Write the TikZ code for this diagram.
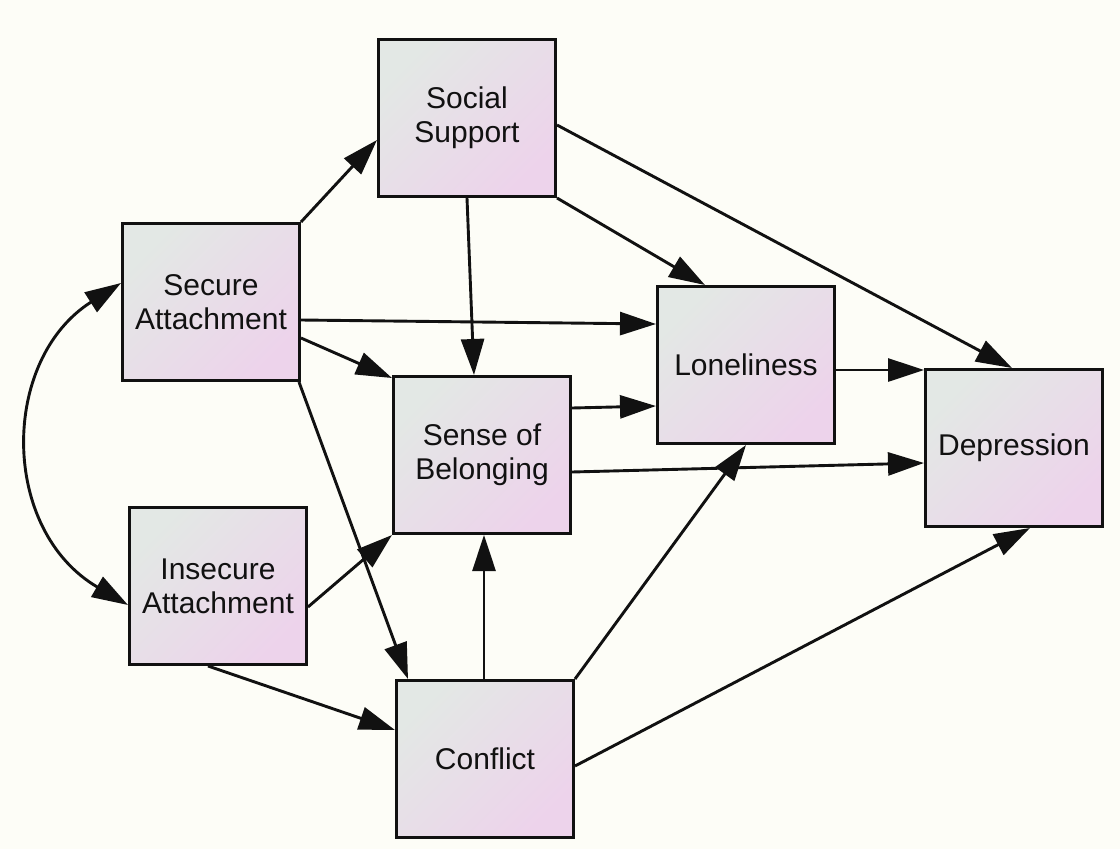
\documentclass[tikz,border=0pt]{standalone}
\usepackage{fontspec}
\setmainfont{Liberation Sans}
\usetikzlibrary{arrows.meta}
\definecolor{paper}{HTML}{FDFDF7}
\definecolor{boxA}{HTML}{E3E8E5}
\definecolor{boxB}{HTML}{E8DDE6}
\definecolor{boxC}{HTML}{EDD3EB}
\definecolor{ink}{HTML}{111111}
\tikzset{
  var/.style={draw=ink, line width=3pt, minimum width=177pt, minimum height=157pt,
    inner sep=0pt, align=center, text=ink,
    top color=boxA, middle color=boxB, bottom color=boxC, shading angle=45,
    font=\fontsize{30}{34}\selectfont},
  path/.style={draw=ink, line width=2.9pt, -{Triangle[length=36pt,width=23pt]}},
  cov/.style={draw=ink, line width=2.9pt, {Triangle[length=36pt,width=23pt]}-{Triangle[length=36pt,width=23pt]}}
}
\begin{document}
\begin{tikzpicture}[x=1pt,y=-1pt]
  \fill[paper] (0,0) rectangle (1120,849);
  \useasboundingbox (0,0) rectangle (1120,849);

  % variables
  \node[var] (ss)  at (467,118) {Social\\Support};
  \node[var] (sec) at (211,302) {Secure\\Attachment};
  \node[var] (ins) at (218,586) {Insecure\\Attachment};
  \node[var] (sob) at (482,455) {Sense of\\Belonging};
  \node[var] (lon) at (746,365) {Loneliness};
  \node[var] (dep) at (1014,448) {Depression};
  \node[var] (con) at (485,759) {Conflict};

  % directed paths
  \draw[path] (sec.north east) -- ([yshift=-22pt]ss.west);
  \draw[path] (ss.south east) -- ([xshift=-41pt]lon.north);
  \draw[path] ([yshift=-7pt]ss.east) -- ([xshift=-2pt]dep.north);
  \draw[path] (ss.south) -- ([xshift=-8pt]sob.north);
  \draw[path] ([yshift=-18pt]sec.east) -- ([yshift=41pt]lon.west);
  \draw[path] ([yshift=-36pt]sec.east) -- ([yshift=-3pt]sob.north west);
  \draw[path] ([xshift=-2pt]sec.south east) -- ([xshift=13pt]con.north west);
  \draw[path] ([yshift=47pt]sob.east) -- ([yshift=-41pt]lon.west);
  \draw[path] ([yshift=-17pt]sob.east) -- ([yshift=-15pt]dep.west);
  \draw[path] ([yshift=-5pt]lon.east) -- ([yshift=78pt]dep.west);
  \draw[path] ([yshift=-21pt]ins.east) -- (sob.south west);
  \draw[path] ([xshift=-10pt]ins.south) -- ([yshift=29pt]con.west);
  \draw[path] ([xshift=-1pt]con.north) -- ([xshift=2pt]sob.south);
  \draw[path] (con.north east) -- (lon.south);
  \draw[path] ([yshift=-7pt]con.east) -- ([xshift=16pt]dep.south);

  % covariance between the attachment styles
  \draw[cov] ([yshift=19pt]sec.west) .. controls +(-121,77) and +(-128,-75) .. ([yshift=-19pt]ins.west);
\end{tikzpicture}
\end{document}
